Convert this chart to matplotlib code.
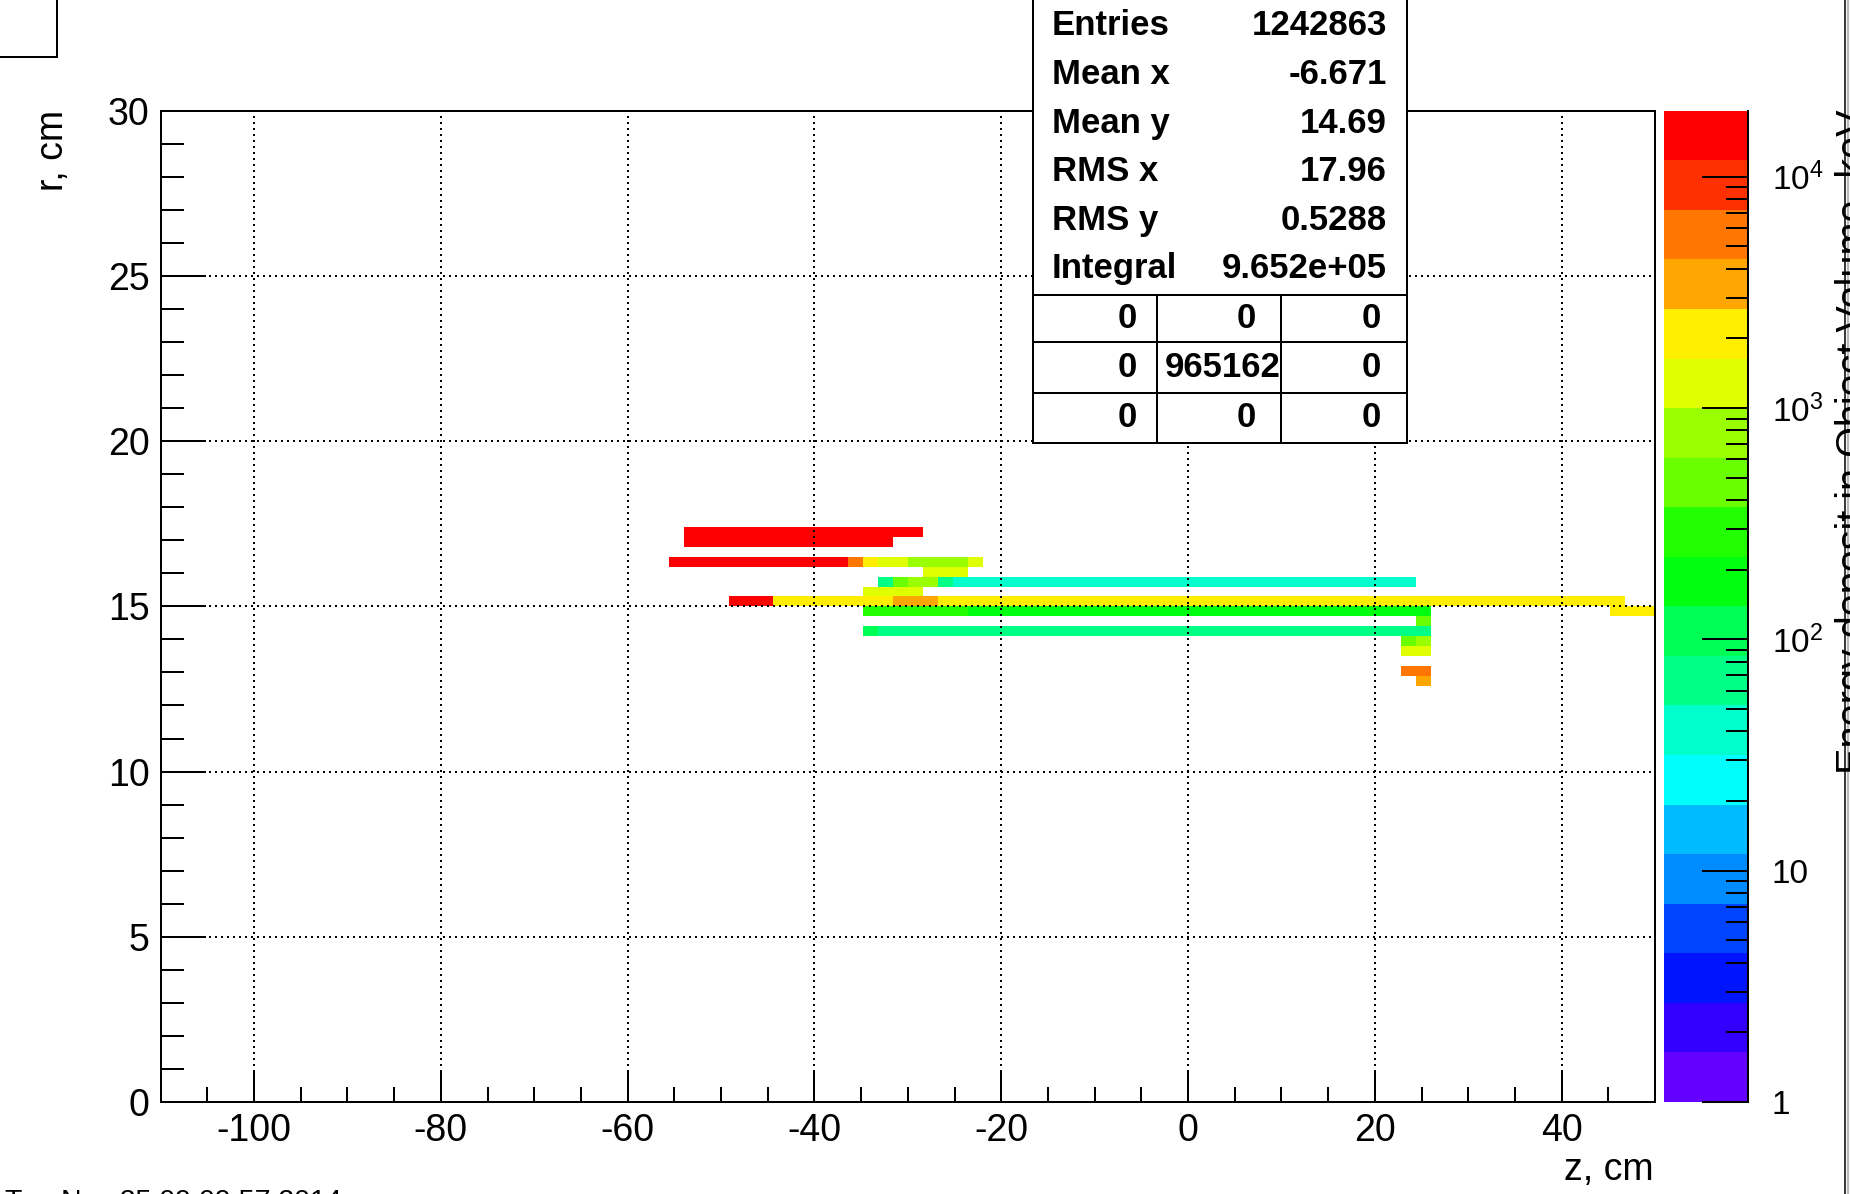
import colorsys
import numpy as np
import matplotlib
matplotlib.use("Agg")
import matplotlib.pyplot as plt
from matplotlib.colors import ListedColormap, LogNorm
from matplotlib.patches import Rectangle
from matplotlib.lines import Line2D
from matplotlib.ticker import FixedLocator, LogLocator, NullFormatter

plt.rcParams["font.family"] = ["Liberation Sans", "DejaVu Sans"]
plt.rcParams["axes.unicode_minus"] = False
plt.rcParams["mathtext.fontset"] = "custom"
plt.rcParams["mathtext.rm"] = "Liberation Sans"

# ---------------- data ----------------
z_lim = (-110.0, 50.0)
r_lim = (0.0, 30.0)
n_z_bins = 100
n_r_bins = 100
z_max_color = 1.93e4          # top of the log colour scale

# filled bins, one entry per horizontal run: lower r edge, z from, z to, content
seg_r = [17.1, 16.8, 16.2, 16.2, 16.2, 16.2, 16.2, 16.2, 15.9,
         15.6, 15.6, 15.6, 15.6, 15.6, 15.3,
         15.0, 15.0, 15.0, 15.0, 14.7, 14.7, 14.7, 14.4,
         14.1, 14.1, 13.8, 13.8, 13.5, 12.9, 12.6]
seg_z0 = [-54.0, -54.0, -55.6, -36.4, -34.8, -33.2, -30.0, -23.6, -28.4,
          -33.2, -31.6, -30.0, -26.8, -25.2, -34.8,
          -49.2, -44.4, -31.6, -26.8, -34.8, -23.6, 45.2, 24.4,
          -34.8, -33.2, 22.8, 24.4, 22.8, 22.8, 24.4]
seg_z1 = [-28.4, -31.6, -36.4, -34.8, -33.2, -30.0, -23.6, -22.0, -23.6,
          -31.6, -30.0, -26.8, -25.2, 24.4, -28.4,
          -44.4, -31.6, -26.8, 46.8, -23.6, 26.0, 50.0, 26.0,
          -33.2, 26.0, 24.4, 26.0, 26.0, 26.0, 26.0]
seg_val = [15000, 15000, 15000, 5610, 2090, 1280, 780, 1280, 1280,
           66, 475, 780, 66, 40, 1280,
           15000, 2090, 3430, 2090, 290, 177, 2090, 475,
           108, 66, 475, 780, 1280, 5610, 3430]

x_ticks = [-100, -80, -60, -40, -20, 0, 20, 40]
x_tick_labels = ["-100", "-80", "-60", "-40", "-20", "0", "20", "40"]
y_ticks = [0, 5, 10, 15, 20, 25, 30]
y_tick_labels = ["0", "5", "10", "15", "20", "25", "30"]
cb_ticks = [1, 10, 100, 1000, 10000]
cb_tick_labels = ["1", "10", r"$\mathregular{10^{2}}$", r"$\mathregular{10^{3}}$",
                  r"$\mathregular{10^{4}}$"]

stat_names = ["Entries", "Mean x", "Mean y", "RMS x", "RMS y", "Integral"]
stat_values = ["1242863", "-6.671", "14.69", "17.96", "0.5288", "9.652e+05"]
overflow_table = [["0", "0", "0"], ["0", "965162", "0"], ["0", "0", "0"]]

x_title = "z, cm"
y_title = "r, cm"
z_title = "Energy deposit in Object Volume, keV"
date_text = "Tue Nov 25 09:09:57 2014"

# ---------------- build histogram ----------------
z_edges = np.linspace(z_lim[0], z_lim[1], n_z_bins + 1)
r_edges = np.linspace(r_lim[0], r_lim[1], n_r_bins + 1)
zc = 0.5 * (z_edges[:-1] + z_edges[1:])
rc = 0.5 * (r_edges[:-1] + r_edges[1:])
dr = r_edges[1] - r_edges[0]
counts = np.zeros((n_r_bins, n_z_bins))
for r0, z0, z1, v in zip(seg_r, seg_z0, seg_z1, seg_val):
    rows = (rc > r0) & (rc < r0 + dr)
    cols = (zc > z0) & (zc < z1)
    counts[np.ix_(rows, cols)] = v
counts = np.ma.masked_equal(counts, 0)

# ROOT "pretty palette" (50 HLS colours) sampled for 20 contour levels
n_levels = 20
pal = []
for k in range(n_levels):
    idx = int((k + 0.99) * 50 / n_levels)
    hue = 280.0 - (idx + 1) * 280.0 / 50
    pal.append(colorsys.hls_to_rgb(hue / 360.0, 0.5, 1.0))
cmap = ListedColormap(pal)
norm = LogNorm(vmin=1, vmax=z_max_color)

# ---------------- figure ----------------
W, H, DPI = 1850, 1194, 100
fig = plt.figure(figsize=(W / DPI, H / DPI), dpi=DPI, facecolor="white")


def fx(x):
    return x / W


def fy(y):
    return 1 - y / H


L, R, T, B = 160.7, 1655.0, 110.7, 1102.0
ax = fig.add_axes([fx(L), fy(B), (R - L) / W, (B - T) / H])
mesh = ax.pcolormesh(z_edges, r_edges, counts, cmap=cmap, norm=norm,
                     antialiased=False, edgecolors="none")
ax.set_xlim(*z_lim)
ax.set_ylim(*r_lim)
ax.set_xticks(x_ticks)
ax.set_xticklabels(x_tick_labels)
ax.set_yticks(y_ticks)
ax.set_yticklabels(y_tick_labels)
ax.xaxis.set_minor_locator(FixedLocator(np.arange(-105, 50, 5)))
ax.yaxis.set_minor_locator(FixedLocator(np.arange(0, 31, 1)))
ax.tick_params(axis="x", which="major", direction="in", length=21.6, width=1.44,
               labelsize=27, pad=8, top=False)
ax.tick_params(axis="x", which="minor", direction="in", length=10.8, width=1.44,
               top=False)
ax.tick_params(axis="y", which="major", direction="in", length=32.4, width=1.44,
               labelsize=27, pad=8, right=False)
ax.tick_params(axis="y", which="minor", direction="in", length=16.2, width=1.44,
               right=False)
ax.grid(True, which="major", color="black", linestyle=(0, (1, 2)), linewidth=1.44)
for s in ax.spines.values():
    s.set_linewidth(1.44)
    s.set_color("black")

# colour bar
cax = fig.add_axes([fx(1664), fy(B), (1748 - 1664) / W, (B - T) / H])
cb = fig.colorbar(mesh, cax=cax)
cb.outline.set_visible(False)
cb.set_ticks(cb_ticks)
cb.set_ticklabels(cb_tick_labels)
cax.yaxis.set_minor_locator(LogLocator(base=10, subs=np.arange(2, 10)))
cax.yaxis.set_minor_formatter(NullFormatter())
cax.tick_params(which="major", direction="in", length=33, width=1.44,
                labelsize=24, pad=17, right=True, left=False)
cax.tick_params(which="minor", direction="in", length=16, width=1.44,
                right=True, left=False)
cax.add_line(Line2D([1, 1], [0, 1], transform=cax.transAxes, color="black",
                    lw=1.44, clip_on=False))

# axis titles
fig.text(fx(1654), fy(1180), x_title, ha="right", va="baseline", fontsize=27)
fig.text(fx(63.5), fy(110), y_title, rotation=90, rotation_mode="anchor",
         ha="right", va="baseline", fontsize=27)
fig.text(fx(1865), fy(110), z_title, rotation=90, rotation_mode="anchor",
         ha="right", va="baseline", fontsize=28.5)

# right canvas border
fig.add_artist(Line2D([fx(1844.5)] * 2, [0, 1], transform=fig.transFigure,
                      color="black", lw=1.1))
fig.add_artist(Line2D([fx(1848)] * 2, [0, 1], transform=fig.transFigure,
                      color="#b8b8b8", lw=1.6))

# empty title box in the upper left corner
fig.add_artist(Rectangle((fx(-5), fy(57)), 62 / W, 62 / H, transform=fig.transFigure,
                         facecolor="none", edgecolor="black", lw=1.44))

# date stamp (cut by bottom edge)
fig.text(fx(5), fy(1189), date_text, ha="left", va="top", fontsize=20.5)

# statistics box
bx0, bx1, by1 = 1033.0, 1407.0, 442.7
fig.add_artist(Rectangle((fx(bx0), fy(by1)), (bx1 - bx0) / W, (by1 + 10) / H,
                         transform=fig.transFigure, facecolor="white",
                         edgecolor="black", lw=1.44, zorder=10))
row_lines = [294.7, 342.3, 392.7]
for yl in row_lines:
    fig.add_artist(Line2D([fx(bx0), fx(bx1)], [fy(yl)] * 2, transform=fig.transFigure,
                          color="black", lw=1.44, zorder=11))
for xl in [1156.7, 1280.7]:
    fig.add_artist(Line2D([fx(xl)] * 2, [fy(294.7), fy(by1)], transform=fig.transFigure,
                          color="black", lw=1.44, zorder=11))
baselines = [35, 84, 133, 181, 230, 278]
for name, val, yb in zip(stat_names, stat_values, baselines):
    fig.text(fx(1051.7), fy(yb), name, ha="left", va="baseline", fontsize=25,
             fontweight="bold", zorder=12)
    fig.text(fx(1387), fy(yb), val, ha="right", va="baseline", fontsize=25,
             fontweight="bold", zorder=12)
cell_right = [1136.7, 1256.0, 1380.7]
row_centers = [318.5, 367.5, 417.7]
for i, row in enumerate(overflow_table):
    for j, s in enumerate(row):
        xr = cell_right[j]
        if len(s) > 3:
            xr = 1281.0
        fig.text(fx(xr), fy(row_centers[i]), s, ha="right", va="center",
                 fontsize=25, fontweight="bold", zorder=12)

fig.savefig("out.png", dpi=DPI, facecolor="white")
